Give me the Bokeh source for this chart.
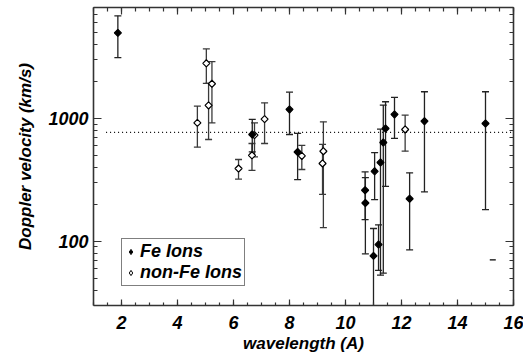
import numpy as np
from bokeh.plotting import figure
from bokeh.models import (ColumnDataSource, LogAxis, LinearAxis, FixedTicker, Range1d,
                          Legend, LegendItem, CustomLabelingPolicy)
from bokeh.embed import file_html
from bokeh.resources import INLINE

# ---- data ----
fe_wl = [1.87, 6.67, 8.00, 8.29, 10.70, 10.71, 11.00, 11.04, 11.18, 11.25, 11.35, 11.43, 11.75, 12.29, 12.82, 15.00]
fe_v  = [4970, 740, 1184, 533, 260, 205, 76, 371, 94, 438, 637, 828, 1078, 222, 950, 910]
fe_lo = [3126, 535, 740, 318, 150, 79, 20, 218, 58, 53, 55, 280, 687, 85, 252, 181]
fe_hi = [6840, 981, 1636, 755, 367, 330, 127, 527, 136, 818, 1284, 1367, 1484, 361, 1649, 1649]

nonfe_wl = [4.71, 5.03, 5.11, 5.23, 6.18, 6.66, 6.75, 7.11, 8.44, 9.18, 9.21, 12.13]
nonfe_v  = [920, 2810, 1276, 1915, 391, 501, 731, 987, 495, 430, 541, 813]
nonfe_lo = [583, 1930, 674, 920, 321, 378, 486, 625, 384, 241, 129, 541]
nonfe_hi = [1260, 3680, 1930, 2897, 463, 625, 920, 1340, 603, 616, 938, 1064]

stray_cap_wl = [15.26]
stray_cap_v = [70.5]

ref_line_wl = [1.45, 15.95]
ref_line_v = 770

legend_labels = ["Fe Ions", "non-Fe Ions"]

x_range = (1, 16)
y_range = (30, 8000)
x_major = [2, 4, 6, 8, 10, 12, 14, 16]
x_minor = list(np.arange(1, 16.01, 0.5))
y_major = [100, 1000]
y_major_labels = ["100", "1000"]
y_minor = [40, 50, 60, 70, 80, 90, 200, 300, 400, 500, 600, 700, 800, 900,
           2000, 3000, 4000, 5000, 6000, 7000, 8000]

FONT = "Liberation Sans"
AX = "#333333"

fe = ColumnDataSource(dict(x=fe_wl, v=fe_v, lo=fe_lo, hi=fe_hi))
nf = ColumnDataSource(dict(x=nonfe_wl, v=nonfe_v, lo=nonfe_lo, hi=nonfe_hi))

p = figure(width=523, height=358, output_backend="svg", toolbar_location=None,
           x_range=Range1d(*x_range), y_range=Range1d(*y_range), y_axis_type="log",
           min_border_left=93, min_border_right=10, min_border_top=7, min_border_bottom=53)
p.xgrid.visible = False
p.ygrid.visible = False
p.outline_line_color = None
p.background_fill_color = "white"
p.border_fill_color = "white"

no_labels = CustomLabelingPolicy(code="""
const all = [...indices]
for (const i of all) indices.unset(i)
return indices
""")

def style_axis(ax, labels=True):
    ax.axis_line_color = AX
    ax.axis_line_width = 1.6
    ax.major_tick_line_color = AX
    ax.minor_tick_line_color = AX
    ax.major_tick_line_width = 1.2
    ax.minor_tick_line_width = 1.2
    ax.major_tick_out = 0
    ax.minor_tick_out = 0
    if labels:
        ax.major_label_text_font = FONT
        ax.major_label_text_font_style = "bold italic"
        ax.major_label_text_font_size = "18px"
        ax.major_label_text_color = "black"
        ax.axis_label_text_font = FONT
        ax.axis_label_text_font_style = "bold italic"
        ax.axis_label_text_font_size = "17px"
        ax.axis_label_text_color = "black"
    else:
        ax.major_label_text_font_size = "1px"
        ax.major_label_text_color = None
        ax.major_label_policy = no_labels
        ax.major_label_standoff = 0
        ax.axis_label = None

# bottom axis
xb = p.xaxis[0]
xb.ticker = FixedTicker(ticks=x_major, minor_ticks=x_minor)
style_axis(xb)
xb.major_tick_in = 6
xb.minor_tick_in = 3
xb.major_label_standoff = 10
xb.axis_label = "wavelength (A)"
xb.axis_label_standoff = 2

# left axis
yl = p.yaxis[0]
yl.ticker = FixedTicker(ticks=y_major, minor_ticks=y_minor)
yl.major_label_overrides = {t: s for t, s in zip(y_major, y_major_labels)}
style_axis(yl)
yl.major_tick_in = 8
yl.minor_tick_in = 4
yl.major_label_standoff = 5
yl.axis_label = "Doppler velocity (km/s)"
yl.axis_label_standoff = 10

# mirrored axes (ticks only)
xt = LinearAxis(ticker=FixedTicker(ticks=x_major, minor_ticks=x_minor))
style_axis(xt, labels=False)
xt.major_tick_in = 7
xt.minor_tick_in = 4
p.add_layout(xt, "above")

yr = LogAxis(ticker=FixedTicker(ticks=y_major, minor_ticks=y_minor))
style_axis(yr, labels=False)
yr.major_tick_in = 8
yr.minor_tick_in = 4
p.add_layout(yr, "right")

# reference dotted line
p.line(ref_line_wl, [ref_line_v, ref_line_v], line_color="black", line_width=1.1, line_dash="1 3")

# error bars
for src, col in ((nf, "#3a3a3a"), (fe, "#222222")):
    p.segment(x0="x", y0="lo", x1="x", y1="hi", source=src, line_color=col, line_width=1.3)
    p.scatter(x="x", y="lo", source=src, marker="dash", size=7, line_color=col, line_width=1.3)
    p.scatter(x="x", y="hi", source=src, marker="dash", size=7, line_color=col, line_width=1.3)

p.scatter(stray_cap_wl, stray_cap_v, marker="dash", size=6, line_color="black", line_width=1.3)

# data points (diamonds = squares turned by 45 degrees)
p.scatter(x="x", y="v", source=nf, marker="square", angle=np.pi / 4, size=5,
          fill_color="white", line_color="black", line_width=1.2)
p.scatter(x="x", y="v", source=fe, marker="square", angle=np.pi / 4, size=5,
          fill_color="black", line_color="black", line_width=1.2)

# legend keys: proxy renderers with a single undrawable (NaN) point
proxy = ColumnDataSource(dict(x=[np.nan], y=[np.nan]))
k_fe = p.scatter(x="x", y="y", source=proxy, marker="diamond", fill_color="black",
                 line_color="black", line_width=1)
k_nf = p.scatter(x="x", y="y", source=proxy, marker="diamond", fill_color="white",
                 line_color="black", line_width=1)

legend = Legend(items=[LegendItem(label=legend_labels[0], renderers=[k_fe]),
                       LegendItem(label=legend_labels[1], renderers=[k_nf])],
                location=(28, 19))
legend.label_text_font = FONT
legend.label_text_font_style = "bold italic"
legend.label_text_font_size = "18px"
legend.label_text_color = "black"
legend.label_height = 17
legend.glyph_height = 17
legend.glyph_width = 13
legend.label_standoff = 3
legend.padding = 2
legend.spacing = 0
legend.margin = 0
legend.border_line_color = "black"
legend.border_line_width = 1
legend.background_fill_color = "white"
legend.background_fill_alpha = 1
p.add_layout(legend, "center")

open("out.html", "w").write(file_html(p, INLINE))
